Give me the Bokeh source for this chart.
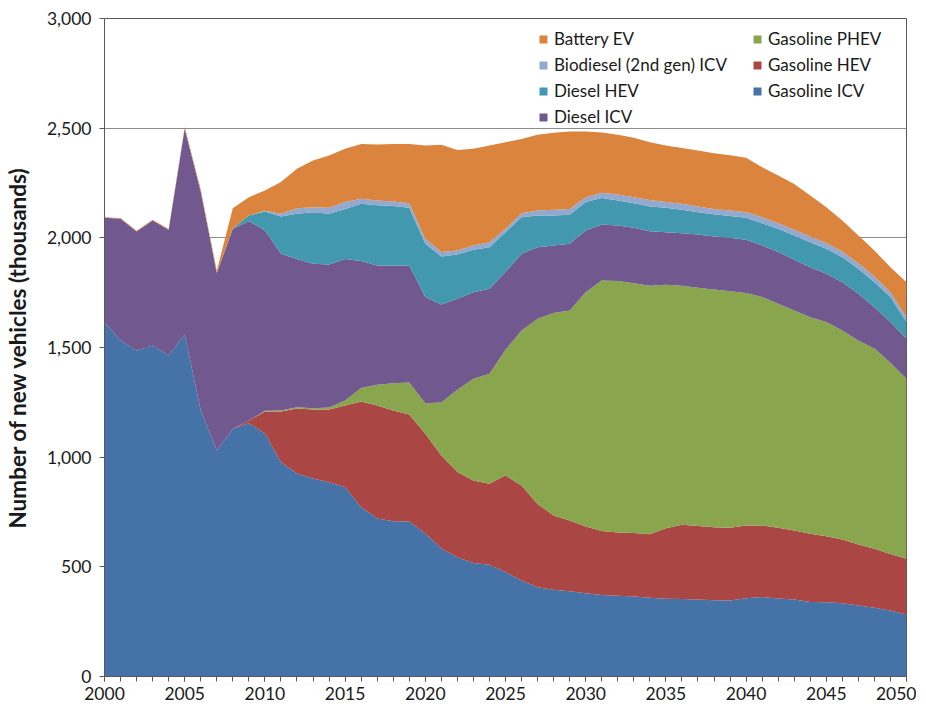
from bokeh.plotting import figure
from bokeh.models import (ColumnDataSource, Range1d, FixedTicker, NumeralTickFormatter,
                          Legend, LegendItem)
from bokeh.embed import file_html
from bokeh.resources import INLINE

years = list(range(2000, 2051))

gasoline_icv = [1615, 1532, 1486, 1509, 1463, 1559, 1213, 1030, 1130, 1155,
                1108, 977, 925, 903, 886, 863, 772, 720, 708, 707,
                652, 584, 544, 517, 509, 476, 438, 407, 395, 389,
                380, 372, 368, 365, 359, 354, 353, 351, 348, 346,
                357, 362, 356, 351, 340, 339, 334, 324, 313, 301,
                283]
gasoline_hev = [0, 0, 0, 0, 0, 0, 0, 0, 0, 12,
                100, 231, 297, 314, 331, 373, 482, 516, 505, 488,
                455, 424, 388, 377, 370, 441, 433, 380, 339, 322,
                304, 291, 289, 289, 289, 322, 339, 335, 333, 332,
                332, 327, 322, 315, 311, 301, 291, 278, 269, 258,
                254]
gasoline_phev = [0, 0, 0, 0, 0, 0, 0, 0, 0, 0,
                 4, 5, 6, 6, 9, 22, 61, 94, 124, 145,
                 139, 241, 375, 463, 501, 573, 707, 844, 923, 958,
                 1068, 1142, 1146, 1139, 1133, 1110, 1089, 1086, 1084, 1079,
                 1060, 1041, 1021, 1003, 987, 976, 953, 930, 913, 871,
                 820]
diesel_icv = [476, 555, 543, 570, 574, 938, 997, 810, 911, 909,
              822, 714, 676, 659, 652, 646, 579, 544, 537, 534,
              484, 447, 415, 395, 388, 354, 349, 326, 308, 304,
              282, 256, 253, 253, 249, 240, 240, 243, 241, 243,
              242, 235, 236, 231, 228, 220, 220, 213, 189, 186,
              183]
diesel_hev = [0, 0, 0, 0, 0, 0, 0, 0, 3, 26,
              86, 170, 206, 235, 232, 228, 261, 274, 271, 263,
              243, 219, 202, 194, 189, 182, 167, 145, 137, 132,
              129, 121, 114, 112, 113, 111, 107, 102, 101, 99,
              100, 102, 106, 111, 114, 114, 114, 114, 114, 114,
              76]
biodiesel_icv = [0, 0, 0, 0, 0, 0, 0, 0, 0, 0,
                 3, 13, 25, 23, 27, 31, 23, 22, 21, 21,
                 23, 20, 18, 19, 23, 15, 18, 23, 26, 26,
                 22, 23, 27, 27, 30, 26, 27, 26, 25, 26,
                 26, 27, 26, 26, 26, 26, 26, 25, 26, 22,
                 22]
battery_ev = [3, 3, 3, 3, 3, 8, 10, 10, 91, 83,
              93, 144, 180, 213, 238, 243, 250, 255, 262, 270,
              425, 489, 459, 441, 441, 395, 339, 345, 351, 354,
              300, 275, 273, 271, 263, 258, 255, 255, 254, 251,
              248, 228, 217, 209, 187, 164, 141, 127, 118, 114,
              160]

series_names = ["Gasoline ICV", "Gasoline HEV", "Gasoline PHEV", "Diesel ICV",
                "Diesel HEV", "Biodiesel (2nd gen) ICV", "Battery EV"]
series_values = [gasoline_icv, gasoline_hev, gasoline_phev, diesel_icv,
                 diesel_hev, biodiesel_icv, battery_ev]
colors = ["#4572A7", "#AA4643", "#89A54E", "#71588F", "#4198AF", "#93A9CF", "#DB843D"]

x_ticks = list(range(2000, 2051, 5))
y_ticks = [0, 500, 1000, 1500, 2000, 2500, 3000]

keys = ["s%d" % i for i in range(len(series_names))]
data = {"year": years}
for k, v in zip(keys, series_values):
    data[k] = v
src = ColumnDataSource(data)

FONT = "Lato"
TXT = "#1a1a1a"

p = figure(frame_width=802, frame_height=658, output_backend="svg", toolbar_location=None,
           x_range=Range1d(2000, 2050), y_range=Range1d(0, 3000),
           min_border_left=100, min_border_right=10, min_border_top=18, min_border_bottom=28)

renderers = p.varea_stack(stackers=keys, x="year", color=colors, source=src)

p.xgrid.visible = False
p.ygrid.grid_line_color = "#8c8c8c"
p.ygrid.grid_line_width = 1
p.ygrid.ticker = FixedTicker(ticks=y_ticks)

p.outline_line_color = "#595959"
p.outline_line_width = 1

p.xaxis.ticker = FixedTicker(ticks=x_ticks, minor_ticks=years)
p.yaxis.ticker = FixedTicker(ticks=y_ticks)
p.yaxis.formatter = NumeralTickFormatter(format="0,0")

for ax in (p.xaxis[0], p.yaxis[0]):
    ax.axis_line_color = "#595959"
    ax.major_tick_line_color = "#595959"
    ax.minor_tick_line_color = "#595959"
    ax.major_tick_out = 5
    ax.major_tick_in = 0
    ax.minor_tick_out = 5
    ax.minor_tick_in = 0
    ax.major_label_text_font = FONT
    ax.major_label_text_font_size = "17.5px"
    ax.major_label_text_color = TXT

p.yaxis.minor_tick_line_color = None
p.xaxis.major_label_standoff = 5
p.yaxis.major_label_standoff = 8

p.yaxis.axis_label = "Number of new vehicles (thousands)"
p.yaxis.axis_label_text_font = FONT
p.yaxis.axis_label_text_font_size = "22.5px"
p.yaxis.axis_label_text_font_style = "bold"
p.yaxis.axis_label_text_color = TXT
p.yaxis.axis_label_standoff = 13

items = [LegendItem(label=series_names[i], renderers=[renderers[i]])
         for i in range(len(series_names) - 1, -1, -1)]
legend = Legend(items=items, location=(434, 549), nrows=4,
                orientation="vertical",
                label_text_font=FONT, label_text_font_size="17px", label_text_color=TXT,
                glyph_width=10, glyph_height=10, label_standoff=6,
                label_width=193, label_height=20, spacing=5, padding=0, margin=0,
                border_line_color=None, background_fill_alpha=0)
p.add_layout(legend)

open("out.html", "w").write(file_html(p, INLINE))
